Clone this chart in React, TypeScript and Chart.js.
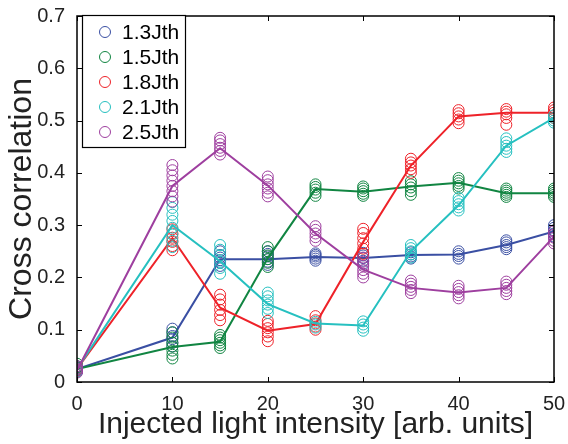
import React, { useEffect, useRef } from "react";
import { Chart, registerables } from "chart.js";

Chart.register(...registerables);

const xValues = [0, 10, 15, 20, 25, 30, 35, 40, 45, 50];
const seriesLabels = ["1.3Jth", "1.5Jth", "1.8Jth", "2.1Jth", "2.5Jth"];
const seriesColors = ["#3a4fa3", "#118542", "#ee2229", "#26c0c0", "#9e3f9f"];
const xTicks = [0, 10, 20, 30, 40, 50];
const yTicks = [0, 0.1, 0.2, 0.3, 0.4, 0.5, 0.6, 0.7];

const meanBlue = [0.025, 0.085, 0.235, 0.235, 0.239, 0.237, 0.243, 0.244, 0.262, 0.288];
const meanGreen = [0.025, 0.067, 0.077, 0.237, 0.369, 0.364, 0.374, 0.381, 0.361, 0.361];
const meanRed = [0.025, 0.275, 0.142, 0.098, 0.111, 0.268, 0.414, 0.508, 0.515, 0.515];
const meanCyan = [0.025, 0.3, 0.231, 0.149, 0.112, 0.108, 0.25, 0.338, 0.452, 0.505];
const meanPurple = [0.022, 0.375, 0.447, 0.376, 0.284, 0.215, 0.18, 0.171, 0.18, 0.278];

const samplesBlue = [
  [0.02, 0.022, 0.025, 0.027, 0.03, 0.024],
  [0.068, 0.075, 0.082, 0.088, 0.095, 0.102],
  [0.222, 0.228, 0.233, 0.238, 0.243, 0.25],
  [0.224, 0.23, 0.235, 0.24, 0.245, 0.25],
  [0.232, 0.236, 0.24, 0.243, 0.246],
  [0.226, 0.232, 0.237, 0.242, 0.247],
  [0.236, 0.24, 0.244, 0.248],
  [0.236, 0.241, 0.245, 0.25],
  [0.254, 0.258, 0.262, 0.267, 0.271],
  [0.278, 0.284, 0.29, 0.295, 0.3],
];
const samplesGreen = [
  [0.02, 0.025, 0.03, 0.035, 0.028],
  [0.045, 0.052, 0.06, 0.068, 0.075, 0.085, 0.095],
  [0.065, 0.07, 0.075, 0.08, 0.085, 0.09],
  [0.22, 0.228, 0.235, 0.242, 0.25, 0.258],
  [0.356, 0.362, 0.368, 0.373, 0.378],
  [0.356, 0.36, 0.365, 0.37, 0.374],
  [0.358, 0.365, 0.372, 0.378, 0.384],
  [0.37, 0.375, 0.38, 0.385, 0.39],
  [0.354, 0.358, 0.362, 0.366, 0.37],
  [0.354, 0.358, 0.362, 0.366, 0.37],
];
const samplesRed = [
  [0.02, 0.025, 0.03, 0.023],
  [0.252, 0.26, 0.268, 0.276, 0.284, 0.292],
  [0.118, 0.128, 0.138, 0.148, 0.158, 0.167],
  [0.078, 0.087, 0.095, 0.103, 0.111, 0.117],
  [0.1, 0.106, 0.112, 0.118, 0.126],
  [0.245, 0.255, 0.265, 0.275, 0.285, 0.293],
  [0.4, 0.407, 0.414, 0.42, 0.427],
  [0.495, 0.502, 0.508, 0.514, 0.52],
  [0.492, 0.505, 0.512, 0.517, 0.522],
  [0.505, 0.51, 0.515, 0.52, 0.525],
];
const samplesCyan = [
  [0.02, 0.025, 0.03],
  [0.258, 0.27, 0.282, 0.295, 0.308, 0.32, 0.333, 0.344],
  [0.207, 0.218, 0.23, 0.242, 0.253, 0.262],
  [0.132, 0.14, 0.148, 0.156, 0.164, 0.171],
  [0.104, 0.11, 0.115],
  [0.098, 0.104, 0.11, 0.116],
  [0.238, 0.244, 0.25, 0.256, 0.262],
  [0.328, 0.334, 0.34, 0.346, 0.352],
  [0.44, 0.446, 0.452, 0.459, 0.466],
  [0.496, 0.5, 0.505, 0.51],
];
const samplesPurple = [
  [0.018, 0.022, 0.026, 0.03],
  [0.345, 0.355, 0.365, 0.375, 0.385, 0.395, 0.405, 0.415],
  [0.435, 0.442, 0.448, 0.455, 0.462, 0.467],
  [0.355, 0.362, 0.37, 0.378, 0.386, 0.393],
  [0.27, 0.277, 0.284, 0.291, 0.298],
  [0.2, 0.207, 0.214, 0.222, 0.23, 0.238],
  [0.17, 0.176, 0.182, 0.188, 0.194],
  [0.16, 0.166, 0.172, 0.178, 0.184],
  [0.168, 0.174, 0.18, 0.186, 0.192],
  [0.265, 0.27, 0.276, 0.282, 0.288],
];

const means = [meanBlue, meanGreen, meanRed, meanCyan, meanPurple];
const samples = [samplesBlue, samplesGreen, samplesRed, samplesCyan, samplesPurple];

const FONT = "'Liberation Sans', Arial, Helvetica, sans-serif";

const boxPlugin = {
  id: "boxTicks",
  afterDraw(chart: any) {
    const { ctx, chartArea } = chart;
    const { left, right, top, bottom } = chartArea;
    const xs = chart.scales.x;
    const ys = chart.scales.y;
    const len = 5;
    ctx.save();
    ctx.strokeStyle = "#000";
    ctx.lineWidth = 1;
    ctx.beginPath();
    xTicks.forEach((t) => {
      const px = Math.round(xs.getPixelForValue(t)) + 0.5;
      ctx.moveTo(px, bottom);
      ctx.lineTo(px, bottom - len);
      ctx.moveTo(px, top);
      ctx.lineTo(px, top + len);
    });
    yTicks.forEach((t) => {
      const py = Math.round(ys.getPixelForValue(t)) + 0.5;
      ctx.moveTo(left, py);
      ctx.lineTo(left + len, py);
      ctx.moveTo(right, py);
      ctx.lineTo(right - len, py);
    });
    ctx.stroke();
    ctx.lineWidth = 1.5;
    ctx.strokeRect(left, top, right - left, bottom - top);

    // legend
    const lx = 82, ly = 15, lw = 103, lh = 132;
    ctx.fillStyle = "#fff";
    ctx.fillRect(lx, ly, lw, lh);
    ctx.lineWidth = 1.2;
    ctx.strokeStyle = "#000";
    ctx.strokeRect(lx + 0.5, ly + 0.5, lw, lh);
    ctx.font = `21px ${FONT}`;
    ctx.textBaseline = "middle";
    ctx.textAlign = "left";
    seriesLabels.forEach((lab, i) => {
      const cy = 32 + i * 25;
      ctx.beginPath();
      ctx.strokeStyle = seriesColors[i];
      ctx.lineWidth = 1;
      ctx.arc(105, cy, 5.5, 0, Math.PI * 2);
      ctx.stroke();
      ctx.fillStyle = "#000";
      ctx.fillText(lab, 122, cy + 1);
    });
    ctx.restore();
  },
};

export default function App() {
  const ref = useRef<HTMLCanvasElement | null>(null);
  useEffect(() => {
    document.body.style.margin = "0";
    const datasets: any[] = [];
    seriesLabels.forEach((lab, i) => {
      datasets.push({
        label: lab + " mean",
        data: xValues.map((x, k) => ({ x, y: means[i][k] })),
        showLine: true,
        tension: 0,
        borderColor: seriesColors[i],
        borderWidth: 2,
        pointRadius: 0,
        fill: false,
        order: 10 - i,
      });
      const pts: any[] = [];
      xValues.forEach((x, k) => samples[i][k].forEach((y) => pts.push({ x, y })));
      datasets.push({
        label: lab,
        data: pts,
        showLine: false,
        borderColor: seriesColors[i],
        backgroundColor: "rgba(0,0,0,0)",
        borderWidth: 1,
        pointRadius: 5.5,
        order: 10 - i,
      });
    });
    const chart = new Chart(ref.current!, {
      type: "scatter",
      data: { datasets },
      options: {
        animation: false,
        responsive: false,
        layout: { padding: { left: 0, right: 14, top: 12, bottom: 0 } },
        plugins: { legend: { display: false }, tooltip: { enabled: false } },
        scales: {
          x: {
            type: "linear",
            min: 0,
            max: 50,
            afterBuildTicks: (s: any) => {
              s.ticks = xTicks.map((v) => ({ value: v }));
            },
            afterFit: (s: any) => {
              s.height = 62;
            },
            grid: { display: false },
            border: { display: false },
            ticks: { font: { family: FONT, size: 20 }, color: "#222", padding: 2, maxRotation: 0 },
            title: {
              display: true,
              text: "Injected light intensity [arb. units]",
              font: { family: FONT, size: 30 },
              color: "#222",
              padding: { top: 0, bottom: 1 },
            },
          },
          y: {
            type: "linear",
            min: 0,
            max: 0.7,
            afterBuildTicks: (s: any) => {
              s.ticks = yTicks.map((v) => ({ value: v }));
            },
            afterFit: (s: any) => {
              s.width = 77;
            },
            grid: { display: false },
            border: { display: false },
            ticks: {
              font: { family: FONT, size: 20 },
              color: "#222",
              padding: 4,
              callback: (v: any) => String(Math.round(Number(v) * 10) / 10),
            },
            title: {
              display: true,
              text: "Cross correlation",
              font: { family: FONT, size: 32 },
              color: "#222",
              padding: { top: 3, bottom: 0 },
            },
          },
        },
      },
      plugins: [boxPlugin],
    });
    return () => chart.destroy();
  }, []);
  return (
    <div style={{ width: 568, height: 444 }}>
      <canvas ref={ref} width={568} height={444} style={{ width: 568, height: 444 }} />
    </div>
  );
}
